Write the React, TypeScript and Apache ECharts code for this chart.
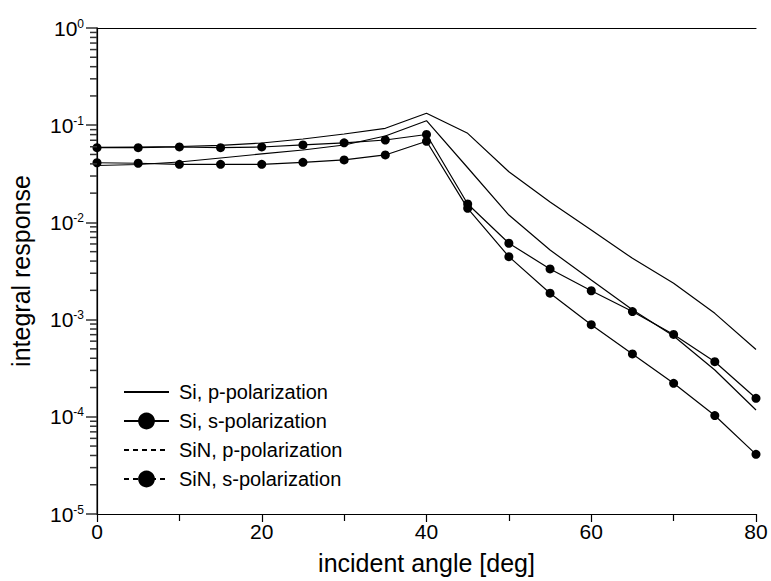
import React, { useEffect, useRef } from "react";
import * as echarts from "echarts";

const FONT = '"Liberation Sans", Arial, Helvetica, sans-serif';

const angles = [0, 5, 10, 15, 20, 25, 30, 35, 40, 45, 50, 55, 60, 65, 70, 75, 80];

const seriesNames = [
  "Si, p-polarization",
  "Si, s-polarization",
  "SiN, p-polarization",
  "SiN, s-polarization",
];

const siP = [0.059, 0.0597, 0.0604, 0.0621, 0.0656, 0.0721, 0.0812, 0.0929, 0.1326, 0.0825, 0.0332, 0.0162, 0.00835, 0.00427, 0.00236, 0.00116, 0.000492];
const siS = [0.0587, 0.0587, 0.0597, 0.0587, 0.0597, 0.0626, 0.0659, 0.0704, 0.0802, 0.01546, 0.0061, 0.00332, 0.00198, 0.00121, 0.000703, 0.000369, 0.000155];
const sinP = [0.0385, 0.0394, 0.0418, 0.046, 0.0506, 0.0556, 0.0626, 0.0774, 0.1112, 0.0365, 0.0119, 0.0052, 0.00255, 0.00126, 0.000678, 0.000303, 0.0001175];
const sinS = [0.0411, 0.0406, 0.0396, 0.0396, 0.0396, 0.0415, 0.0439, 0.0494, 0.0683, 0.01396, 0.00444, 0.00187, 0.000887, 0.000443, 0.000221, 0.000103, 0.0000411];

const yMin = 1e-5;
const yMax = 1;
const xMin = 0;
const xMax = 80;
const xInterval = 20;
const xTitle = "incident angle [deg]";
const yTitle = "integral response";

// minor log ticks 2..9 x 10^n
const minorTicks = [
  2e-5, 3e-5, 4e-5, 5e-5, 6e-5, 7e-5, 8e-5, 9e-5,
  2e-4, 3e-4, 4e-4, 5e-4, 6e-4, 7e-4, 8e-4, 9e-4,
  2e-3, 3e-3, 4e-3, 5e-3, 6e-3, 7e-3, 8e-3, 9e-3,
  2e-2, 3e-2, 4e-2, 5e-2, 6e-2, 7e-2, 8e-2, 9e-2,
  0.2, 0.3, 0.4, 0.5, 0.6, 0.7, 0.8, 0.9,
];

export default function App() {
  const ref = useRef<HTMLDivElement>(null);

  useEffect(() => {
    if (!ref.current) return;
    const chart = echarts.init(ref.current, undefined, { renderer: "svg" });

    const pairs = (arr: number[]) => angles.map((a, i) => [a, arr[i]]);
    const lineStyle = { color: "#000", width: 1.2 };
    const dashed = [5, 4];

    const option: any = {
      animation: false,
      backgroundColor: "#fff",
      textStyle: { fontFamily: FONT },
      grid: { left: 97, right: 15, top: 28, bottom: 67, containLabel: false, outerBoundsMode: "none" },
      legend: {
        orient: "vertical",
        left: 123,
        top: 382,
        padding: 0,
        itemWidth: 45,
        itemHeight: 21,
        itemGap: 9,
        selectedMode: false,
        textStyle: { fontSize: 20, color: "#000", fontFamily: FONT, padding: [0, 0, 0, 5] },
        data: [
          { name: seriesNames[0], itemStyle: { opacity: 0 } },
          { name: seriesNames[1] },
          { name: seriesNames[2], lineStyle: { type: dashed }, itemStyle: { opacity: 0 } },
          { name: seriesNames[3], lineStyle: { type: dashed } },
        ],
      },
      xAxis: [
        {
          type: "value",
          min: xMin,
          max: xMax,
          interval: xInterval,
          position: "bottom",
          name: xTitle,
          nameLocation: "middle",
          nameGap: 36,
          nameTextStyle: { fontSize: 25, color: "#000", fontFamily: FONT },
          axisLine: { show: true, lineStyle: { color: "#000", width: 1.2 } },
          axisTick: { show: true, length: 8, lineStyle: { color: "#000", width: 1.2 } },
          minorTick: { show: true, splitNumber: 2, length: 7, lineStyle: { color: "#000", width: 1.2 } },
          splitLine: { show: false },
          axisLabel: { fontSize: 21, color: "#000", margin: 7, fontFamily: FONT },
        },
        {
          type: "value",
          min: xMin,
          max: xMax,
          position: "top",
          axisLine: { show: true, lineStyle: { color: "#000", width: 1.2 } },
          axisTick: { show: false },
          axisLabel: { show: false },
          splitLine: { show: false },
        },
      ],
      yAxis: [
        {
          type: "log",
          logBase: 10,
          min: yMin,
          max: yMax,
          position: "left",
          name: yTitle,
          nameLocation: "middle",
          nameGap: 64,
          nameTextStyle: { fontSize: 25, color: "#000", fontFamily: FONT },
          axisLine: { show: true, lineStyle: { color: "#555", width: 1.5 } },
          axisTick: { show: true, length: 11, lineStyle: { color: "#333", width: 1.5 } },
          splitLine: { show: false },
          axisLabel: {
            margin: 13,
            showMinLabel: true,
            showMaxLabel: true,
            formatter: (v: number) => {
              const e = Math.round(Math.log10(v));
              return `{b|10}{s|${e}}`;
            },
            rich: {
              b: { fontSize: 21, lineHeight: 21, color: "#000", fontFamily: FONT },
              s: { fontSize: 12, lineHeight: 4, verticalAlign: "top", color: "#000", fontFamily: FONT },
            },
          },
        },
        {
          type: "log",
          logBase: 10,
          min: yMin,
          max: yMax,
          position: "right",
          axisLine: { show: true, lineStyle: { color: "#000", width: 1.2 } },
          axisTick: { show: false },
          axisLabel: { show: false },
          splitLine: { show: false },
        },
      ],
      series: [
        { name: seriesNames[0], type: "line", data: pairs(siP), symbol: "none", lineStyle, itemStyle: { color: "#000" } },
        { name: seriesNames[1], type: "line", data: pairs(siS), symbol: "circle", symbolSize: 9, lineStyle, itemStyle: { color: "#000" } },
        { name: seriesNames[2], type: "line", data: pairs(sinP), symbol: "none", lineStyle, itemStyle: { color: "#000" } },
        { name: seriesNames[3], type: "line", data: pairs(sinS), symbol: "circle", symbolSize: 9, lineStyle, itemStyle: { color: "#000" } },
        {
          name: "y minor ticks",
          type: "custom",
          silent: true,
          clip: false,
          z: 10,
          data: minorTicks.map((v) => [xMin, v]),
          renderItem: (params: any, api: any) => {
            const p = api.coord([api.value(0), api.value(1)]);
            return {
              type: "line",
              shape: { x1: p[0] - 7, y1: p[1], x2: p[0], y2: p[1] },
              style: { stroke: "#333", lineWidth: 1.5 },
            };
          },
        },
      ],
    };

    chart.setOption(option);
    return () => chart.dispose();
  }, []);

  return (
    <div
      ref={ref}
      style={{ position: "fixed", left: 0, top: 0, width: 771, height: 581, background: "#fff" }}
    />
  );
}
